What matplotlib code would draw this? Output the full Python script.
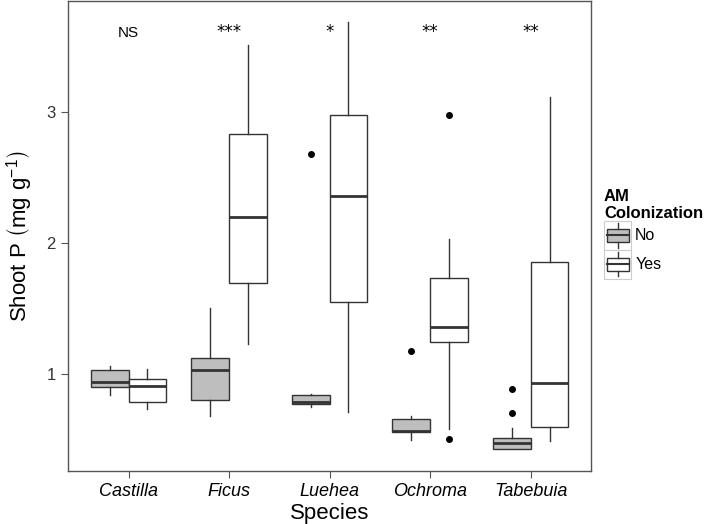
import matplotlib
matplotlib.use('Agg')
import matplotlib.pyplot as plt
from matplotlib.patches import Rectangle
from matplotlib.lines import Line2D
from matplotlib.legend_handler import HandlerBase

plt.rcParams['font.family'] = ['Liberation Sans', 'DejaVu Sans']

species = ['Castilla', 'Ficus', 'Luehea', 'Ochroma', 'Tabebuia']
signif = ['NS', '***', '*', '**', '**']

# AM colonization: No
no_lo = [0.84, 0.68, 0.745, 0.50, 0.426]
no_q1 = [0.90, 0.80, 0.769, 0.556, 0.431]
no_med = [0.94, 1.03, 0.789, 0.568, 0.476]
no_q3 = [1.03, 1.12, 0.838, 0.657, 0.512]
no_hi = [1.06, 1.50, 0.845, 0.68, 0.591]
no_out = [[], [], [2.68], [1.175], [0.886, 0.70]]

# AM colonization: Yes
yes_lo = [0.733, 1.229, 0.713, 0.578, 0.489]
yes_q1 = [0.787, 1.691, 1.551, 1.244, 0.598]
yes_med = [0.911, 2.194, 2.359, 1.356, 0.931]
yes_q3 = [0.962, 2.827, 2.974, 1.729, 1.854]
yes_hi = [1.036, 3.507, 3.683, 2.027, 3.114]
yes_out = [[], [], [], [2.974, 0.502], []]

edge = '#333333'
fill_no = '#BEBEBE'
fill_yes = 'white'


def make_stats(lo, q1, med, q3, hi, out):
    return [dict(whislo=a, q1=b, med=c, q3=d, whishi=e, fliers=f)
            for a, b, c, d, e, f in zip(lo, q1, med, q3, hi, out)]


fig = plt.figure(figsize=(7.09, 5.24), dpi=100)
ax = fig.add_axes([0.0963, 0.1017, 0.7373, 0.8963])

pos = list(range(1, len(species) + 1))
w = 0.375
for stats, fill, off in [(make_stats(no_lo, no_q1, no_med, no_q3, no_hi, no_out), fill_no, -w / 2),
                         (make_stats(yes_lo, yes_q1, yes_med, yes_q3, yes_hi, yes_out), fill_yes, w / 2)]:
    ax.bxp(stats, positions=[p + off for p in pos], widths=w, patch_artist=True,
           showcaps=False,
           boxprops=dict(facecolor=fill, edgecolor=edge, linewidth=1.0),
           medianprops=dict(color=edge, linewidth=2.0, solid_capstyle='butt'),
           whiskerprops=dict(color=edge, linewidth=1.0),
           flierprops=dict(marker='o', markerfacecolor='black', markeredgecolor='black',
                           markersize=4, linestyle='none'))

for p, s in zip(pos, signif):
    if s == 'NS':
        ax.text(p, 3.569, s, ha='center', va='baseline', fontsize=11, color='black')
    else:
        ax.text(p, 3.569, s, ha='center', va='baseline', fontsize=12, color='black',
                family=['DejaVu Sans'])

ax.set_xlim(0.4, 5.6)
ax.set_ylim(0.263, 3.843)
ax.set_xticks(pos)
ax.set_xticklabels(species, fontsize=13, style='italic', color='black')
ax.set_yticks([1, 2, 3])
ax.set_yticklabels(['1', '2', '3'], fontsize=12, color='#333333')
ax.tick_params(length=5, width=0.8, color='#555555', pad=4)
for sp in ax.spines.values():
    sp.set_color('#555555')
    sp.set_linewidth(1.0)
ax.set_xlabel('Species', fontsize=16, labelpad=2)
ax.set_ylabel('Shoot P $\\left(\\mathregular{mg\\ g^{-1}}\\right)$', fontsize=16, labelpad=9)


class BoxKey(HandlerBase):
    def __init__(self, fill):
        super().__init__()
        self.fill = fill

    def create_artists(self, legend, orig_handle, xdescent, ydescent, width, height, fontsize, trans):
        x0, y0 = -xdescent, -ydescent
        bg = Rectangle((x0, y0), width, height, facecolor='white', edgecolor='#CCCCCC',
                       linewidth=0.8, transform=trans)
        bx0 = x0 + width * 0.1
        bx1 = x0 + width * 0.9
        by0 = y0 + height * 0.27
        by1 = y0 + height * 0.73
        box = Rectangle((bx0, by0), bx1 - bx0, by1 - by0, facecolor=self.fill,
                        edgecolor=edge, linewidth=1.0, transform=trans)
        xm = x0 + width / 2
        ym = y0 + height / 2
        med = Line2D([bx0, bx1], [ym, ym], color=edge, linewidth=1.5, transform=trans)
        w1 = Line2D([xm, xm], [by1, y0 + height * 0.92], color=edge, linewidth=1.0, transform=trans)
        w2 = Line2D([xm, xm], [y0 + height * 0.08, by0], color=edge, linewidth=1.0, transform=trans)
        return [bg, box, med, w1, w2]


h_no = Rectangle((0, 0), 1, 1)
h_yes = Rectangle((0, 0), 1, 1)
leg = fig.legend([h_no, h_yes], ['No', 'Yes'],
                 handler_map={h_no: BoxKey(fill_no), h_yes: BoxKey(fill_yes)},
                 title='AM\nColonization', loc='upper left',
                 bbox_to_anchor=(0.852, 0.64), frameon=False, fontsize=11.5,
                 title_fontproperties={'weight': 'bold', 'size': 12},
                 alignment='left', borderpad=0, borderaxespad=0,
                 handlelength=1.7, handleheight=2.4, labelspacing=0,
                 handletextpad=0.25)

fig.savefig('out.png', dpi=100)
